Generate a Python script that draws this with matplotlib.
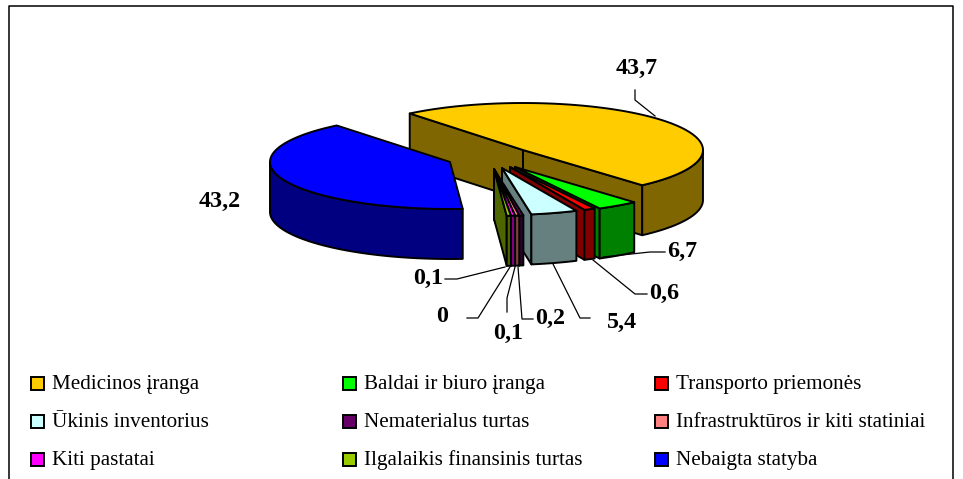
import numpy as np
import matplotlib
matplotlib.use("Agg")
import matplotlib.pyplot as plt
from matplotlib.patches import Polygon, Rectangle

plt.rcParams['font.family'] = ['Liberation Serif', 'DejaVu Serif']

# duomenys
categories = ["Medicinos įranga", "Baldai ir biuro įranga", "Transporto priemonės",
              "Ūkinis inventorius", "Nematerialus turtas", "Infrastruktūros ir kiti statiniai",
              "Kiti pastatai", "Ilgalaikis finansinis turtas", "Nebaigta statyba"]
values = [43.7, 6.7, 0.6, 5.4, 0.2, 0.1, 0, 0.1, 43.2]
value_labels = ["43,7", "6,7", "0,6", "5,4", "0,2", "0,1", "0", "0,1", "43,2"]

top_colors = ["#FFCC00", "#00FF00", "#FF0000", "#CCFFFF", "#660066", "#FF8080", "#FF00FF", "#99CC00", "#0000FF"]
side_colors = ["#806600", "#008000", "#800000", "#668080", "#330033", "#804040", "#800080", "#4D6600", "#000080"]

# "3D" skritulio geometrija (pikseliais)
RX, RY, DEPTH = 180, 47, 50
START = 129
MIN_VALUE = 0.5  # mazi sektoriai vis tiek turi matytis
# vaizdo iskraipymas: pasukimo kampas -> matomas kampas
warp_t = [0, 154.8, 178.5, 180.6, 199.7, 207, 360]
warp_d = [0, 22.7, 12.3, 13.9, 9.8, 8, 0]
apex_x = [523, 515, 510, 502, 494, 494, 494, 494, 450]
apex_y = [150, 167, 167, 168, 169, 169, 169, 169, 162]

# etikeciu ir linijuciu vietos
label_pos = [(637, 68), (682, 251), (664, 293), (622, 322), (550, 318), (508, 333), (442, 317), (428, 278), (220, 201)]
leaders = [[(635, 90), (635, 100), (655, 116)],
           [(665, 252), (650, 252), (603, 257)],
           [(647, 294), (635, 294), (593, 260)],
           [(590, 318), (580, 318), (553, 264)],
           [(533, 319), (522, 319), (518, 267)],
           [(507, 312), (507, 298), (515, 267)],
           [(467, 318), (478, 318), (510, 267)],
           [(445, 279), (457, 279), (505, 267)],
           None]

fig = plt.figure(figsize=(9.63, 4.79), dpi=100)
ax = fig.add_axes([0, 0, 1, 1])
ax.set_xlim(0, 963)
ax.set_ylim(479, 0)
ax.axis('off')

# remelis
ax.plot([9, 9, 953, 953], [479, 6, 6, 479], color='black', lw=1.1)

shown = np.maximum(values, MIN_VALUE)
cum = np.concatenate([[0], np.cumsum(shown)]) / shown.sum() * 360
edges = START - (cum + np.interp(cum, warp_t, warp_d))


def draw_slice(i, z, faces):
    """Vienas sektorius: matomos vidines sienos, isorinis kraštas, virsus."""
    apex = np.array([apex_x[i], apex_y[i]], dtype=float)
    down = np.array([0, DEPTH])
    t = np.radians(np.linspace(edges[i], edges[i + 1], 80))
    pts = np.column_stack([apex[0] + RX * np.cos(t), apex[1] - RY * np.sin(t)])
    kw = dict(edgecolor='black', lw=1.4, joinstyle='round', zorder=z)

    for end in [pts[j] for j in faces]:
        ax.add_patch(Polygon([apex, end, end + down, apex + down], facecolor=side_colors[i], **kw))
    front = pts[np.sin(t) <= 0]
    ax.add_patch(Polygon(np.vstack([front, (front + down)[::-1]]), facecolor=side_colors[i], **kw))
    ax.add_patch(Polygon(np.vstack([apex, pts]), facecolor=top_colors[i], **kw))


# nuo galo i prieki
draw_slice(0, 2, faces=(0, -1))
draw_slice(8, 3, faces=())
for k, i in enumerate(range(1, 8)):
    draw_slice(i, 4 + k, faces=(-1,))

# etiketes
for i, (x, y) in enumerate(label_pos):
    ax.text(x, y, value_labels[i], ha='center', va='center', fontsize=17.3, fontweight='bold', color='black', zorder=20)
    if leaders[i] is not None:
        xs, ys = zip(*leaders[i])
        ax.plot(xs, ys, color='black', lw=0.9, zorder=20)

# legenda
col_x = [31, 343, 655]
row_y = [383.5, 421.5, 459.5]
for i, name in enumerate(categories):
    x, y = col_x[i % 3], row_y[i // 3]
    ax.add_patch(Rectangle((x, y - 6.5), 13, 13, facecolor=top_colors[i], edgecolor='black', lw=1.4, zorder=20))
    ax.text(x + 21, y + 5.7, name, ha='left', va='baseline', fontsize=15.2, color='black', zorder=20)

fig.savefig('out.png', dpi=100)
